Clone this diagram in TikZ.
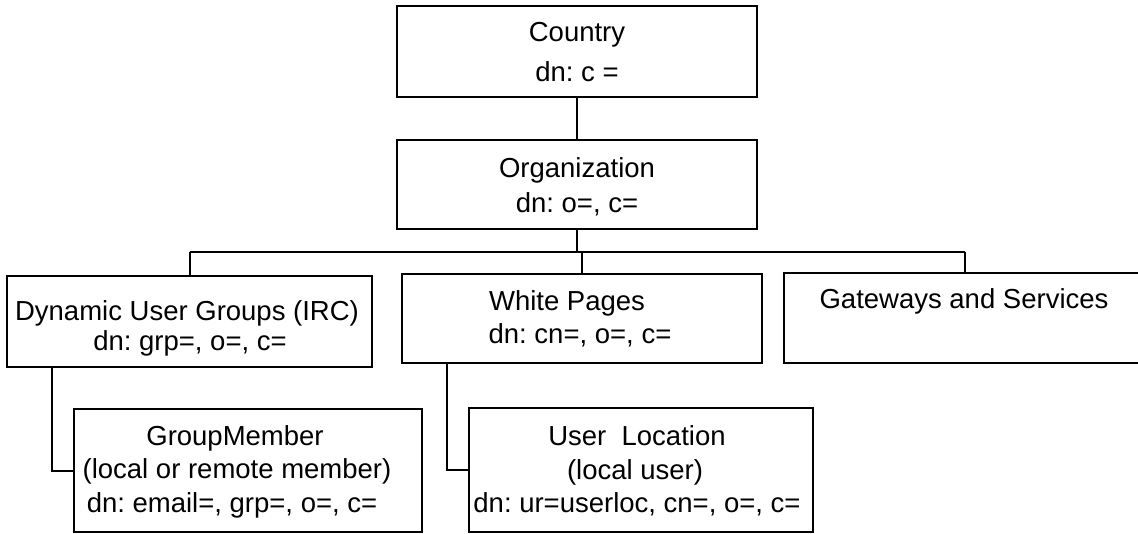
\documentclass[tikz,border=0pt]{standalone}
\usepackage{fontspec}
\setmainfont{Liberation Sans}
\begin{document}
\begin{tikzpicture}[x=1pt,y=-1pt,
  box/.style={draw=black, line width=2pt, rectangle, inner sep=0pt},
  txt/.style={anchor=base, inner sep=0pt, font=\fontsize{27.5}{33}\selectfont},
  link/.style={draw=black, line width=2pt}]
\useasboundingbox (0,0) rectangle (1138,533);
% boxes
\node[box, minimum width=360pt, minimum height=91pt] (country) at (577,51.5) {};
\node[box, minimum width=360pt, minimum height=89pt] (org) at (577,184.5) {};
\node[box, minimum width=365pt, minimum height=91pt] (dyn) at (189.5,321.5) {};
\node[box, minimum width=360pt, minimum height=89pt] (wp) at (582,318.5) {};
\node[box, minimum width=362pt, minimum height=90pt] (gw) at (965,318) {};
\node[box, minimum width=348pt, minimum height=123pt] (gm) at (248,470.5) {};
\node[box, minimum width=344pt, minimum height=124pt] (ul) at (641,470) {};
% texts
\node[txt] (country1) at (577,41) {Country};
\node[txt] (country2) at (577,81) {dn:\ c =};
\node[txt] (org1) at (577,177) {Organization};
\node[txt] (org2) at (577,212) {dn:\ o=, c=};
\node[txt] (dyn1) at (187,320) {Dynamic User Groups (IRC)};
\node[txt] (dyn2) at (190,350) {dn:\ grp=, o=, c=};
\node[txt] (wp1) at (567,310) {White Pages};
\node[txt] (wp2) at (580,343) {dn:\ cn=, o=, c=};
\node[txt] (gw1) at (964,308) {Gateways and Services};
\node[txt] (gm1) at (235,445) {GroupMember};
\node[txt] (gm2) at (237,478) {(local or remote member)};
\node[txt] (gm3) at (232,512) {dn:\ email=, grp=, o=, c=};
\node[txt] (ul1) at (637,445) {User\ \ Location};
\node[txt] (ul2) at (635,479) {(local user)};
\node[txt] (ul3) at (637,512) {dn:\ ur=userloc, cn=, o=, c=};
% connectors
\coordinate (busy) at (579,252);
\draw[link] (country.south) -- (org.north);
\draw[link] (org.south) -- (org.south |- busy);
\draw[link] (dyn.north |- busy) -- (gw.north |- busy);
\draw[link] (dyn.north) -- (dyn.north |- busy);
\draw[link] (wp.north) -- (wp.north |- busy);
\draw[link] (gw.north) -- (gw.north |- busy);
\draw[link] ([xshift=46pt]dyn.south west) |- (gm.west);
\draw[link] ([xshift=46pt]wp.south west) |- (ul.west);
\end{tikzpicture}
\end{document}
